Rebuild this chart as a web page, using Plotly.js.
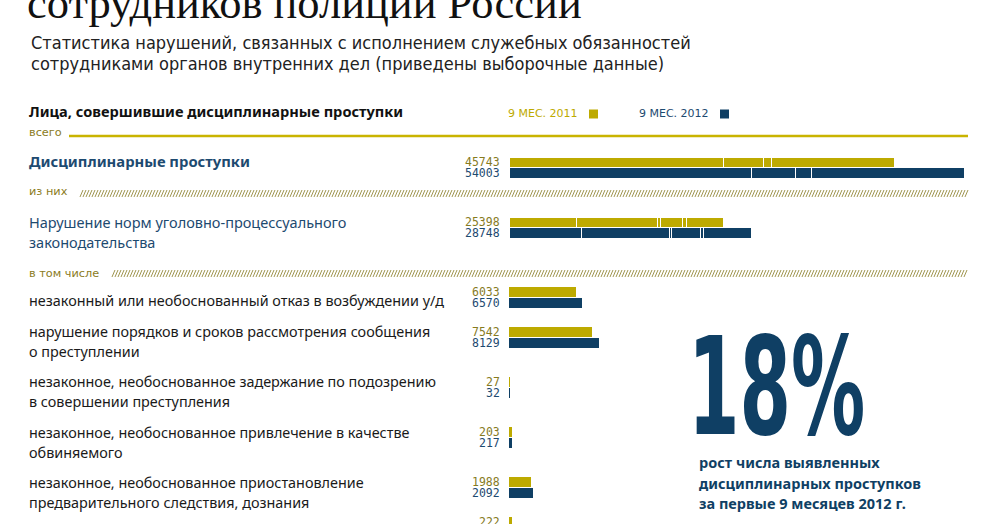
<!DOCTYPE html>
<html><head><meta charset="utf-8">
<script src="https://cdn.plot.ly/plotly-3.0.1.min.js"></script>
<style>html,body{margin:0;padding:0;background:#fff}#chart{width:998px;height:524px}</style>
</head><body><div id="chart"></div>
<script>
// ---------- data ----------
const years = ['2011', '2012'];
const seriesNames = ['9 МЕС. 2011', '9 МЕС. 2012'];
const rowLabels = [
  'Дисциплинарные проступки',
  'Нарушение норм уголовно-процессуального<br>законодательства',
  'незаконный или необоснованный отказ в возбуждении у/д',
  'нарушение порядков и сроков рассмотрения сообщения<br>о преступлении',
  'незаконное, необоснованное задержание по подозрению<br>в совершении преступления',
  'незаконное, необоснованное привлечение в качестве<br>обвиняемого',
  'незаконное, необоснованное приостановление<br>предварительного следствия, дознания',
  ''
];
const values2011 = [45743, 25398, 6033, 7542, 27, 203, 1988, 222];
const values2012 = [54003, 28748, 6570, 8129, 32, 217, 2092, null];
// segments of the two top bars (white separators)
const totalSegments2011 = [25398, 4770, 1010, 14565];
const totalSegments2012 = [28748, 5255, 1900, 18100];
const uppSegments2011 = [7950, 9690, 390, 2610, 440, 4318];
const uppSegments2012 = [8625, 10355, 355, 3405, 275, 5733];
const sectionLabels = ['всего', 'из них', 'в том числе'];
const bigNumber = '18%';
const bigNumberText = ['рост числа выявленных', 'дисциплинарных проступков', 'за первые 9 месяцев 2012 г.'];

// ---------- layout helpers ----------
const W = 998, H = 524;
const X = p => p / W;
const Y = p => 1 - p / H;
const olive = '#bdaa00', navy = '#0f3f64';
const oliveText = '#877b1e', navyText = '#1d4a70';
const body = "'Noto Sans', 'Open Sans', sans-serif";
const narrow = "'DejaVu Sans Condensed', sans-serif";

const rowTop = [157, 217, 287, 327, 377, 427, 477, 517];
const slot = 10.5;
const labelY = [161, 222, 300, 331, 381, 432, 482, 522];
const rowStyle = r => r === 0 ? {size: 14.8, color: navyText, weight: 'bold'}
                 : r === 1 ? {size: 14.5, color: navyText, weight: 'normal'}
                 : {size: 14.4, color: '#1a1a1a', weight: 'normal'};

const yName = r => r === 0 ? 'y' : 'y' + (r + 1);
const yKey = r => r === 0 ? 'yaxis' : 'yaxis' + (r + 1);
const xName = r => r < 2 ? 'x' : 'x2';

const traces = [];
function segTraces(r, s11, s12) {
  for (let i = 0; i < s11.length; i++) {
    traces.push({
      type: 'bar', orientation: 'h', y: years, x: [s11[i], s12[i]],
      xaxis: xName(r), yaxis: yName(r), width: 1,
      marker: {color: [olive, navy], line: {color: '#ffffff', width: 1}},
      hoverinfo: 'skip', showlegend: false
    });
  }
}
segTraces(0, totalSegments2011, totalSegments2012);
segTraces(1, uppSegments2011, uppSegments2012);
for (let r = 2; r < values2011.length; r++) {
  traces.push({
    type: 'bar', orientation: 'h', y: years, x: [values2011[r], values2012[r]],
    xaxis: xName(r), yaxis: yName(r), width: 0.82,
    marker: {color: [olive, navy], line: {color: [olive, navy], width: 1}},
    hoverinfo: 'skip', showlegend: false
  });
}

const layout = {
  width: W, height: H, margin: {l: 0, r: 0, t: 0, b: 0},
  paper_bgcolor: '#ffffff', plot_bgcolor: 'rgba(0,0,0,0)',
  barmode: 'stack', bargap: 0, showlegend: false,
  xaxis: {domain: [X(509), X(968)], range: [0, 54450], visible: false, fixedrange: true, anchor: 'y'},
  xaxis2: {domain: [X(509), X(968)], range: [0, 41727], visible: false, fixedrange: true, anchor: 'y3'},
  annotations: [], shapes: []
};
for (let r = 0; r < rowTop.length; r++) {
  const top = rowTop[r];
  let dom, range;
  if (top + 2 * slot > H) {
    dom = [0, Y(top)];
    range = [-0.5 + (H - top) / slot, -0.5];
  } else {
    dom = [Y(top + 2 * slot), Y(top)];
    range = [1.5, -0.5];
  }
  layout[yKey(r)] = {domain: dom, type: 'category', categoryorder: 'array', categoryarray: years,
    range: range, visible: false, fixedrange: true, anchor: xName(r)};
}

const A = layout.annotations, S = layout.shapes;
function txt(text, x, y, font, xanchor) {
  A.push({text: text, x: X(x), y: Y(y), xref: 'paper', yref: 'paper', xanchor: xanchor || 'left',
    yanchor: 'middle', showarrow: false, align: 'left', font: font});
}

// title (cut at the top, as in the original) and subtitle
txt('сотрудников полиции России', 25, 3, {family: "'Liberation Serif', serif", size: 44.5, color: '#111'});
txt('Статистика нарушений, связанных с исполнением служебных обязанностей', 29, 43, {family: narrow, size: 18, color: '#222'});
txt('сотрудниками органов внутренних дел (приведены выборочные данные)', 29, 63, {family: narrow, size: 18, color: '#222'});

// header and legend
txt('Лица, совершившие дисциплинарные проступки', 27, 111, {family: body, size: 14.6, color: '#111', weight: 'bold'});
txt(seriesNames[0], 580, 114, {family: "'DejaVu Sans', sans-serif", size: 11, color: olive}, 'right');
txt(seriesNames[1], 711, 114, {family: "'DejaVu Sans', sans-serif", size: 11, color: navyText}, 'right');
S.push({type: 'rect', xref: 'paper', yref: 'paper', x0: X(589), x1: X(598), y0: Y(118.5), y1: Y(109.5), fillcolor: olive, line: {width: 0}});
S.push({type: 'rect', xref: 'paper', yref: 'paper', x0: X(720), x1: X(729), y0: Y(118.5), y1: Y(109.5), fillcolor: navy, line: {width: 0}});

// section labels and separators
const secFont = {family: "'DejaVu Sans', sans-serif", size: 11.3, color: '#8a7b1c'};
txt(sectionLabels[0], 27, 133, secFont);
txt(sectionLabels[1], 27, 192, secFont);
txt(sectionLabels[2], 27, 273, secFont);
S.push({type: 'line', xref: 'paper', yref: 'paper', x0: X(69), x1: X(968), y0: Y(136), y1: Y(136), line: {color: '#c9b400', width: 2.5}});
function hatch(x0, x1, yTop, yBot) {
  let d = '';
  for (let x = x0; x <= x1 - 3; x += 3) {
    d += 'M' + X(x).toFixed(5) + ',' + Y(yBot).toFixed(5) + 'L' + X(x + 3).toFixed(5) + ',' + Y(yTop).toFixed(5);
  }
  S.push({type: 'path', xref: 'paper', yref: 'paper', path: d, line: {color: '#a0964f', width: 1}});
}
hatch(80, 968, 190, 197);
hatch(112, 968, 270, 277);

// row labels
for (let r = 0; r < rowLabels.length; r++) {
  if (!rowLabels[r]) continue;
  const st = rowStyle(r);
  rowLabels[r].split('<br>').forEach((line, i) => {
    txt(line, 27, labelY[r] + i * 20, {family: body, size: st.size, color: st.color, weight: st.weight});
  });
}

// value labels, positioned through the axes (category index 0 = 2011, 1 = 2012)
const valFont = c => ({family: "'DejaVu Sans Mono', monospace", size: 11.5, color: c});
for (let r = 0; r < values2011.length; r++) {
  [[values2011[r], 0, oliveText], [values2012[r], 1, navyText]].forEach(([v, yi, c]) => {
    if (v === null) return;
    A.push({text: String(v), x: 0, y: yi, xref: xName(r), yref: yName(r), xanchor: 'right', yanchor: 'middle',
      xshift: -8, borderpad: 0, showarrow: false, font: valFont(c)});
  });
}

// big number block (condensed horizontally to mimic the original's narrow typeface)
const bigIdx = A.length;
txt(bigNumber, 686, 387, {family: narrow, size: 135, color: navy, weight: 'bold'});
bigNumberText.forEach((line, i) => {
  txt(line, 697, 462 + i * 20.5, {family: body, size: 14.5, color: navy, weight: 'bold'});
});
document.head.insertAdjacentHTML('beforeend',
  '<style>g.annotation[data-index="' + bigIdx + '"] text.annotation-text{transform:scaleX(0.61);transform-box:fill-box;transform-origin:0 50%;}</style>');

Plotly.newPlot('chart', traces, layout, {staticPlot: true, displayModeBar: false});
</script>
</body></html>
